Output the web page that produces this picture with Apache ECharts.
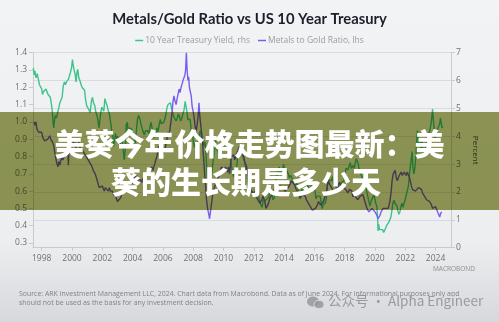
<!DOCTYPE html>
<html>
<head>
<meta charset="utf-8">
<script src="https://cdn.jsdelivr.net/npm/echarts@6/dist/echarts.min.js"></script>
<style>
  html, body { margin: 0; padding: 0; }
  #chart { width: 499px; height: 322px; }
</style>
</head>
<body>
<div id="chart"></div>
<script>
// Year ticks along the bottom axis
const yearTicks = [1998, 2000, 2002, 2004, 2006, 2008, 2010, 2012, 2014, 2016, 2018, 2020, 2022, 2024];
// Left axis (ratio) and right axis (percent) tick values
const ratioTicks = [0.3, 0.4, 0.5, 0.6, 0.7, 0.8, 0.9, 1.0, 1.1, 1.2, 1.3, 1.4];
const percentTicks = [0, 1, 2, 3, 4, 5, 6, 7];

// 10 Year Treasury Yield, percent (right axis) — [year, yield]
const treasuryYield = [
  [1997.45,6.45],[1997.5,6.2],[1997.55,6.35],[1997.62,6.1],[1997.7,6.25],[1997.78,6.05],[1997.85,5.85],[1997.92,5.9],
  [1998.0,5.7],[1998.05,5.5],[1998.12,5.6],[1998.2,5.55],[1998.28,5.7],[1998.35,5.6],[1998.42,5.5],[1998.5,5.45],
  [1998.57,5.4],[1998.63,5.2],[1998.7,4.9],[1998.76,4.45],[1998.8,4.3],[1998.85,4.6],[1998.9,4.75],[1998.97,4.65],
  [1999.05,4.7],[1999.12,5.0],[1999.2,5.2],[1999.28,5.15],[1999.35,5.4],[1999.42,5.8],[1999.5,5.95],[1999.57,5.85],
  [1999.63,5.95],[1999.7,5.9],[1999.77,6.05],[1999.83,6.1],[1999.9,6.3],[1999.97,6.45],[2000.03,6.75],[2000.08,6.55],
  [2000.13,6.4],[2000.2,6.25],[2000.27,5.95],[2000.33,6.3],[2000.38,6.4],[2000.45,6.1],[2000.52,6.0],[2000.6,5.85],
  [2000.67,5.75],[2000.75,5.8],[2000.83,5.65],[2000.9,5.3],[2000.97,5.1],[2001.05,5.15],[2001.12,4.95],[2001.2,4.85],
  [2001.28,5.25],[2001.35,5.4],[2001.42,5.2],[2001.5,5.1],[2001.58,4.85],[2001.65,4.75],[2001.72,4.55],[2001.78,4.3],
  [2001.84,4.35],[2001.9,4.85],[2001.97,5.05],[2002.03,5.0],[2002.1,4.9],[2002.17,5.35],[2002.25,5.2],[2002.32,5.1],
  [2002.4,4.9],[2002.47,4.8],[2002.55,4.5],[2002.62,4.2],[2002.68,4.05],[2002.75,3.65],[2002.82,3.9],[2002.88,4.1],
  [2002.95,3.85],[2003.02,4.0],[2003.1,3.85],[2003.18,3.7],[2003.25,3.95],[2003.32,3.8],[2003.4,3.4],[2003.45,3.15],
  [2003.52,3.6],[2003.58,4.4],[2003.65,4.5],[2003.72,4.1],[2003.8,4.3],[2003.87,4.3],[2003.95,4.25],[2004.02,4.1],
  [2004.1,4.0],[2004.17,3.75],[2004.25,4.2],[2004.32,4.6],[2004.4,4.75],[2004.47,4.65],[2004.55,4.45],[2004.62,4.3],
  [2004.7,4.15],[2004.78,4.05],[2004.85,4.2],[2004.93,4.25],[2005.0,4.2],[2005.08,4.1],[2005.15,4.35],[2005.22,4.5],
  [2005.3,4.25],[2005.38,4.05],[2005.45,3.95],[2005.52,4.1],[2005.6,4.3],[2005.67,4.15],[2005.75,4.4],[2005.82,4.6],
  [2005.9,4.45],[2005.97,4.4],[2006.05,4.5],[2006.12,4.6],[2006.2,4.8],[2006.28,5.05],[2006.35,5.15],[2006.42,5.1],
  [2006.5,5.2],[2006.57,5.0],[2006.65,4.85],[2006.72,4.7],[2006.8,4.7],[2006.87,4.55],[2006.95,4.65],[2007.02,4.8],
  [2007.1,4.7],[2007.17,4.55],[2007.25,4.65],[2007.32,4.7],[2007.4,4.95],[2007.47,5.25],[2007.52,5.1],[2007.58,4.9],
  [2007.65,4.6],[2007.72,4.55],[2007.8,4.6],[2007.87,4.2],[2007.95,4.05],[2008.02,3.8],[2008.08,3.6],[2008.15,3.75],
  [2008.22,3.45],[2008.28,3.75],[2008.35,3.9],[2008.42,4.1],[2008.48,4.2],[2008.55,3.95],[2008.62,3.85],[2008.7,3.65],
  [2008.77,3.8],[2008.83,3.55],[2008.88,3.0],[2008.93,2.5],[2008.98,2.15],[2009.05,2.6],[2009.12,2.85],[2009.2,2.55],
  [2009.27,2.9],[2009.33,3.15],[2009.42,3.75],[2009.47,3.85],[2009.53,3.5],[2009.6,3.6],[2009.67,3.4],[2009.75,3.35],
  [2009.82,3.45],[2009.88,3.35],[2009.95,3.7],[2010.02,3.8],[2010.1,3.65],[2010.17,3.7],[2010.25,3.9],[2010.3,3.85],
  [2010.38,3.35],[2010.45,3.2],[2010.52,2.95],[2010.6,2.7],[2010.67,2.55],[2010.73,2.5],[2010.8,2.6],[2010.87,2.85],
  [2010.93,3.3],[2011.0,3.35],[2011.07,3.6],[2011.13,3.5],[2011.2,3.4],[2011.28,3.45],[2011.35,3.15],[2011.42,3.0],
  [2011.5,3.05],[2011.57,2.6],[2011.63,2.2],[2011.7,1.9],[2011.77,2.2],[2011.83,2.05],[2011.9,1.95],[2011.97,1.9],
  [2012.05,1.95],[2012.12,2.0],[2012.2,2.25],[2012.27,2.0],[2012.35,1.75],[2012.42,1.6],[2012.48,1.55],[2012.55,1.45],
  [2012.62,1.7],[2012.7,1.75],[2012.77,1.7],[2012.83,1.65],[2012.9,1.7],[2012.97,1.8],[2013.05,1.95],[2013.12,2.0],
  [2013.2,1.9],[2013.27,1.72],[2013.35,1.8],[2013.42,2.15],[2013.48,2.5],[2013.55,2.55],[2013.62,2.8],[2013.68,2.9],
  [2013.75,2.65],[2013.82,2.6],[2013.88,2.75],[2013.97,3.0],[2014.05,2.75],[2014.12,2.7],[2014.2,2.75],[2014.28,2.65],
  [2014.35,2.5],[2014.42,2.6],[2014.5,2.55],[2014.57,2.45],[2014.63,2.4],[2014.7,2.5],[2014.77,2.25],[2014.83,2.35],
  [2014.9,2.2],[2014.97,2.15],[2015.05,1.75],[2015.1,1.68],[2015.17,2.1],[2015.23,1.95],[2015.3,1.9],[2015.37,2.2],
  [2015.43,2.4],[2015.5,2.3],[2015.57,2.2],[2015.63,2.15],[2015.7,2.05],[2015.77,2.0],[2015.83,2.25],[2015.9,2.25],
  [2015.97,2.25],[2016.05,2.0],[2016.1,1.75],[2016.17,1.85],[2016.23,1.8],[2016.3,1.8],[2016.38,1.85],[2016.45,1.6],
  [2016.52,1.4],[2016.58,1.55],[2016.65,1.6],[2016.72,1.6],[2016.8,1.8],[2016.85,2.2],[2016.92,2.45],[2016.97,2.45],
  [2017.05,2.45],[2017.12,2.4],[2017.2,2.55],[2017.27,2.3],[2017.33,2.3],[2017.4,2.25],[2017.45,2.15],[2017.52,2.3],
  [2017.6,2.25],[2017.67,2.1],[2017.73,2.25],[2017.8,2.35],[2017.87,2.35],[2017.95,2.4],[2018.02,2.6],[2018.08,2.85],
  [2018.15,2.9],[2018.22,2.8],[2018.3,2.95],[2018.37,3.05],[2018.43,2.85],[2018.5,2.85],[2018.57,2.95],[2018.63,2.85],
  [2018.7,3.05],[2018.77,3.2],[2018.83,3.1],[2018.9,3.0],[2018.95,2.8],[2019.02,2.7],[2019.08,2.65],[2019.15,2.65],
  [2019.22,2.45],[2019.28,2.5],[2019.35,2.4],[2019.42,2.1],[2019.48,2.05],[2019.55,2.05],[2019.62,1.6],[2019.68,1.5],
  [2019.73,1.65],[2019.8,1.75],[2019.87,1.8],[2019.93,1.9],[2020.0,1.85],[2020.05,1.6],[2020.12,1.5],[2020.17,1.1],
  [2020.2,0.6],[2020.24,0.85],[2020.3,0.65],[2020.37,0.65],[2020.43,0.7],[2020.5,0.65],[2020.57,0.55],[2020.63,0.62],
  [2020.7,0.7],[2020.77,0.8],[2020.83,0.85],[2020.9,0.9],[2020.97,0.93],[2021.05,1.1],[2021.12,1.35],[2021.18,1.6],
  [2021.25,1.7],[2021.32,1.6],[2021.38,1.6],[2021.45,1.5],[2021.52,1.3],[2021.58,1.2],[2021.65,1.3],[2021.72,1.5],
  [2021.78,1.6],[2021.85,1.45],[2021.92,1.45],[2022.0,1.75],[2022.07,1.9],[2022.13,1.95],[2022.2,2.2],[2022.27,2.6],
  [2022.33,2.9],[2022.4,2.95],[2022.45,3.45],[2022.5,2.9],[2022.57,2.65],[2022.63,2.85],[2022.7,3.3],[2022.75,3.8],
  [2022.8,4.2],[2022.85,4.0],[2022.9,3.65],[2022.97,3.85],[2023.03,3.5],[2023.1,3.9],[2023.17,3.5],[2023.23,3.4],
  [2023.3,3.5],[2023.37,3.7],[2023.43,3.8],[2023.5,3.9],[2023.57,4.05],[2023.63,4.25],[2023.7,4.45],[2023.77,4.8],
  [2023.8,4.98],[2023.85,4.6],[2023.9,4.3],[2023.95,3.88],[2024.0,4.0],[2024.07,4.15],[2024.13,4.25],[2024.2,4.2],
  [2024.27,4.45],[2024.32,4.65],[2024.38,4.45],[2024.43,4.3],[2024.47,4.35]
];

// Metals to Gold Ratio (left axis) — [year, ratio]
const metalsGoldRatio = [
  [1997.5,1.0],[1997.56,0.98],[1997.62,1.0],[1997.68,0.96],[1997.74,0.97],[1997.8,0.94],[1997.86,0.95],[1997.92,0.93],
  [1998.0,0.94],[1998.07,0.91],[1998.13,0.92],[1998.2,0.89],[1998.27,0.9],[1998.33,0.88],[1998.4,0.9],[1998.47,0.89],
  [1998.53,0.92],[1998.6,0.9],[1998.67,0.91],[1998.73,0.88],[1998.8,0.86],[1998.87,0.82],[1998.93,0.79],[1999.0,0.76],
  [1999.07,0.74],[1999.13,0.77],[1999.2,0.75],[1999.27,0.78],[1999.33,0.8],[1999.4,0.78],[1999.47,0.8],[1999.53,0.79],
  [1999.6,0.81],[1999.66,0.84],[1999.72,0.87],[1999.76,0.75],[1999.8,0.84],[1999.87,0.86],[1999.93,0.88],[2000.0,0.87],
  [2000.07,0.9],[2000.13,0.86],[2000.2,0.88],[2000.27,0.85],[2000.33,0.87],[2000.4,0.86],[2000.47,0.88],[2000.53,0.85],
  [2000.6,0.86],[2000.67,0.84],[2000.73,0.85],[2000.8,0.82],[2000.87,0.83],[2000.93,0.8],[2001.0,0.81],[2001.07,0.78],
  [2001.13,0.79],[2001.2,0.76],[2001.27,0.77],[2001.33,0.74],[2001.4,0.72],[2001.47,0.73],[2001.53,0.7],[2001.6,0.68],
  [2001.67,0.66],[2001.73,0.64],[2001.8,0.62],[2001.87,0.63],[2001.93,0.61],[2002.0,0.63],[2002.07,0.62],[2002.13,0.6],
  [2002.2,0.62],[2002.27,0.63],[2002.33,0.61],[2002.4,0.6],[2002.47,0.62],[2002.53,0.6],[2002.6,0.59],[2002.67,0.6],
  [2002.73,0.58],[2002.8,0.59],[2002.87,0.57],[2002.93,0.56],[2003.0,0.54],[2003.07,0.55],[2003.13,0.53],[2003.2,0.56],
  [2003.27,0.57],[2003.33,0.59],[2003.4,0.58],[2003.47,0.6],[2003.53,0.59],[2003.6,0.61],[2003.67,0.6],[2003.73,0.62],
  [2003.8,0.61],[2003.87,0.63],[2003.93,0.62],[2004.0,0.64],[2004.07,0.66],[2004.13,0.68],[2004.2,0.67],[2004.27,0.69],
  [2004.33,0.66],[2004.4,0.65],[2004.47,0.67],[2004.53,0.66],[2004.6,0.65],[2004.67,0.67],[2004.73,0.66],[2004.8,0.68],
  [2004.87,0.7],[2004.93,0.71],[2005.0,0.7],[2005.07,0.72],[2005.13,0.71],[2005.2,0.73],[2005.27,0.74],[2005.33,0.72],
  [2005.4,0.74],[2005.47,0.76],[2005.53,0.78],[2005.6,0.8],[2005.67,0.83],[2005.73,0.86],[2005.8,0.84],[2005.87,0.82],
  [2005.93,0.8],[2006.0,0.82],[2006.07,0.81],[2006.13,0.84],[2006.2,0.87],[2006.27,0.9],[2006.33,0.94],[2006.4,0.92],
  [2006.47,0.96],[2006.53,1.0],[2006.6,1.05],[2006.67,1.12],[2006.73,1.15],[2006.8,1.12],[2006.87,1.1],[2006.93,1.13],
  [2007.0,1.16],[2007.07,1.19],[2007.13,1.17],[2007.2,1.2],[2007.27,1.22],[2007.33,1.24],[2007.4,1.23],[2007.45,1.27],
  [2007.5,1.3],[2007.55,1.4],[2007.6,1.3],[2007.65,1.24],[2007.7,1.26],[2007.75,1.2],[2007.8,1.19],[2007.87,1.15],
  [2007.93,1.09],[2008.0,1.06],[2008.07,1.02],[2008.13,0.97],[2008.2,0.95],[2008.27,0.99],[2008.33,1.04],[2008.38,1.11],
  [2008.43,1.04],[2008.5,0.98],[2008.55,0.94],[2008.62,0.88],[2008.68,0.8],[2008.75,0.71],[2008.82,0.63],[2008.88,0.55],
  [2008.95,0.5],[2009.02,0.47],[2009.08,0.44],[2009.13,0.45],[2009.2,0.52],[2009.27,0.57],[2009.33,0.58],[2009.4,0.62],
  [2009.47,0.64],[2009.53,0.66],[2009.6,0.65],[2009.67,0.68],[2009.73,0.7],[2009.8,0.72],[2009.87,0.74],[2009.93,0.73],
  [2010.0,0.75],[2010.07,0.72],[2010.13,0.74],[2010.2,0.73],[2010.27,0.71],[2010.33,0.74],[2010.4,0.7],[2010.47,0.76],
  [2010.53,0.8],[2010.6,0.79],[2010.67,0.81],[2010.73,0.78],[2010.8,0.8],[2010.87,0.79],[2010.93,0.83],[2011.0,0.84],
  [2011.07,0.86],[2011.13,0.84],[2011.2,0.85],[2011.27,0.82],[2011.33,0.8],[2011.4,0.77],[2011.47,0.78],[2011.53,0.74],
  [2011.6,0.7],[2011.67,0.66],[2011.73,0.63],[2011.8,0.62],[2011.87,0.6],[2011.93,0.61],[2012.0,0.58],[2012.07,0.6],
  [2012.13,0.58],[2012.2,0.56],[2012.27,0.57],[2012.33,0.55],[2012.4,0.53],[2012.47,0.52],[2012.53,0.55],[2012.6,0.57],
  [2012.67,0.58],[2012.73,0.54],[2012.8,0.5],[2012.87,0.49],[2012.93,0.52],[2013.0,0.54],[2013.07,0.56],[2013.13,0.55],
  [2013.2,0.57],[2013.27,0.59],[2013.33,0.6],[2013.4,0.62],[2013.47,0.6],[2013.53,0.63],[2013.6,0.62],[2013.67,0.61],
  [2013.73,0.63],[2013.8,0.64],[2013.87,0.62],[2013.93,0.63],[2014.0,0.62],[2014.07,0.6],[2014.13,0.61],[2014.2,0.6],
  [2014.27,0.62],[2014.33,0.63],[2014.4,0.64],[2014.47,0.66],[2014.53,0.65],[2014.6,0.67],[2014.67,0.64],[2014.73,0.63],
  [2014.8,0.61],[2014.87,0.6],[2014.93,0.59],[2015.0,0.58],[2015.07,0.56],[2015.13,0.57],[2015.2,0.58],[2015.27,0.59],
  [2015.33,0.58],[2015.4,0.57],[2015.47,0.55],[2015.53,0.54],[2015.6,0.53],[2015.67,0.52],[2015.73,0.51],[2015.8,0.5],
  [2015.87,0.49],[2015.93,0.48],[2016.0,0.49],[2016.07,0.5],[2016.13,0.49],[2016.2,0.52],[2016.27,0.54],[2016.33,0.53],
  [2016.4,0.52],[2016.47,0.51],[2016.53,0.52],[2016.6,0.54],[2016.67,0.56],[2016.73,0.58],[2016.8,0.6],[2016.87,0.64],
  [2016.93,0.66],[2017.0,0.64],[2017.07,0.65],[2017.13,0.63],[2017.2,0.61],[2017.27,0.6],[2017.33,0.59],[2017.4,0.6],
  [2017.47,0.61],[2017.53,0.63],[2017.6,0.64],[2017.67,0.65],[2017.73,0.63],[2017.8,0.64],[2017.87,0.62],[2017.93,0.63],
  [2018.0,0.62],[2018.07,0.61],[2018.13,0.6],[2018.2,0.59],[2018.27,0.6],[2018.33,0.61],[2018.4,0.62],[2018.47,0.6],
  [2018.53,0.57],[2018.6,0.56],[2018.67,0.57],[2018.73,0.58],[2018.8,0.57],[2018.87,0.55],[2018.93,0.56],[2019.0,0.57],
  [2019.07,0.58],[2019.13,0.57],[2019.2,0.58],[2019.27,0.56],[2019.33,0.54],[2019.4,0.52],[2019.47,0.5],[2019.53,0.5],
  [2019.6,0.48],[2019.67,0.47],[2019.73,0.48],[2019.8,0.5],[2019.87,0.51],[2019.93,0.5],[2020.0,0.48],[2020.07,0.47],
  [2020.13,0.46],[2020.2,0.44],[2020.27,0.45],[2020.33,0.46],[2020.4,0.48],[2020.47,0.49],[2020.53,0.5],[2020.6,0.5],
  [2020.67,0.5],[2020.73,0.51],[2020.8,0.49],[2020.87,0.5],[2020.93,0.52],[2021.0,0.55],[2021.07,0.6],[2021.13,0.66],
  [2021.2,0.7],[2021.27,0.69],[2021.33,0.72],[2021.4,0.68],[2021.47,0.66],[2021.53,0.67],[2021.6,0.69],[2021.67,0.7],
  [2021.73,0.71],[2021.8,0.69],[2021.87,0.7],[2021.93,0.71],[2022.0,0.7],[2022.07,0.69],[2022.13,0.71],[2022.2,0.7],
  [2022.27,0.68],[2022.33,0.66],[2022.4,0.63],[2022.47,0.61],[2022.53,0.6],[2022.6,0.61],[2022.67,0.6],[2022.73,0.59],
  [2022.8,0.6],[2022.87,0.62],[2022.93,0.61],[2023.0,0.62],[2023.07,0.61],[2023.13,0.59],[2023.2,0.58],[2023.27,0.57],
  [2023.33,0.56],[2023.4,0.55],[2023.47,0.56],[2023.53,0.55],[2023.6,0.54],[2023.67,0.53],[2023.73,0.52],[2023.8,0.5],
  [2023.87,0.49],[2023.93,0.5],[2024.0,0.51],[2024.07,0.5],[2024.13,0.48],[2024.2,0.47],[2024.27,0.45],[2024.33,0.47],
  [2024.4,0.48],[2024.45,0.47]
];

const seriesNames = ['10 Year Treasury Yield, rhs', 'Metals to Gold Ratio, lhs'];
const seriesColors = ['#3cc48c', '#7a5cf0'];

const chart = echarts.init(document.getElementById('chart'), null, { renderer: 'canvas' });

const axisGray = '#c9cbd0';
const labelGray = '#6f7175';

chart.setOption({
  animation: false,
  backgroundColor: {
    type: 'linear', x: 0, y: 0, x2: 0, y2: 1,
    colorStops: [
      { offset: 0, color: '#f2f3f5' },
      { offset: 0.75, color: '#eceef0' },
      { offset: 1, color: '#d7d8db' }
    ]
  },
  title: {
    text: 'Metals/Gold Ratio vs US 10 Year Treasury',
    left: 'center',
    top: 7,
    textStyle: { fontFamily: 'Lato', fontWeight: 'bold', fontSize: 14.8, color: '#1d1e2c' }
  },
  legend: {
    top: 31,
    left: 'center',
    icon: 'rect',
    itemWidth: 8,
    itemHeight: 1.5,
    itemGap: 8,
    textStyle: { fontFamily: 'Open Sans', fontSize: 8.5, color: '#9a9ca0', padding: [0, 0, 0, -3] },
    data: seriesNames
  },
  grid: { left: 33, right: 48, top: 52.7, bottom: 74.3 },
  xAxis: {
    type: 'value',
    min: 1997.426,
    max: 2025.017,
    axisLine: { show: true, lineStyle: { color: axisGray, width: 1 } },
    axisTick: { show: true, customValues: yearTicks, length: 3, lineStyle: { color: axisGray } },
    axisLabel: {
      customValues: yearTicks,
      margin: 6,
      fontFamily: 'Open Sans', fontSize: 8.5, color: labelGray,
      formatter: v => String(Math.round(v))
    },
    splitLine: { show: false }
  },
  yAxis: [
    {
      type: 'value',
      position: 'left',
      min: 0.2728,
      max: 1.4,
      axisLine: { show: true, lineStyle: { color: axisGray } },
      axisTick: { show: true, customValues: ratioTicks, length: 4, lineStyle: { color: axisGray } },
      axisLabel: {
        customValues: ratioTicks,
        margin: 6,
        fontFamily: 'Open Sans', fontSize: 8.5, color: labelGray,
        formatter: v => v.toFixed(1)
      },
      splitLine: { show: false }
    },
    {
      type: 'value',
      position: 'right',
      min: 0,
      max: 7,
      interval: 1,
      name: 'Percent',
      nameLocation: 'middle',
      nameRotate: -90,
      nameGap: 17,
      nameTextStyle: { fontFamily: 'Open Sans', fontSize: 8, color: '#4a4c50' },
      axisLine: { show: true, lineStyle: { color: axisGray } },
      axisTick: { show: true, length: 4, lineStyle: { color: axisGray } },
      axisLabel: {
        margin: 5,
        fontFamily: 'Open Sans', fontSize: 8.5, color: labelGray,
        formatter: v => String(v)
      },
      splitLine: { show: true, lineStyle: { color: '#d9dbe0', width: 1 } }
    }
  ],
  series: [
    {
      name: seriesNames[0],
      type: 'line',
      yAxisIndex: 1,
      data: treasuryYield,
      showSymbol: false,
      lineStyle: { color: seriesColors[0], width: 1.4 },
      itemStyle: { color: seriesColors[0] },
      z: 3
    },
    {
      name: seriesNames[1],
      type: 'line',
      yAxisIndex: 0,
      data: metalsGoldRatio,
      showSymbol: false,
      lineStyle: { color: seriesColors[1], width: 1.4 },
      itemStyle: { color: seriesColors[1] },
      z: 4
    }
  ],
  graphic: [
    // Olive headline band laid over the middle of the plot
    {
      type: 'rect',
      left: 0, top: 112,
      shape: { width: 499, height: 98 },
      style: { fill: '#949b57', blend: 'multiply' },
      z: 100
    },
    {
      type: 'text',
      left: 'center', top: 129,
      style: {
        text: '美葵今年价格走势图最新：美',
        fontFamily: 'Noto Sans CJK SC', fontWeight: 900, fontSize: 30,
        fill: '#ffffff',
        shadowColor: 'rgba(0,0,0,0.55)', shadowBlur: 4, shadowOffsetX: 1, shadowOffsetY: 1
      },
      z: 101
    },
    {
      type: 'text',
      left: 111, top: 167,
      style: {
        text: '葵的生长期是多少天',
        fontFamily: 'Noto Sans CJK SC', fontWeight: 900, fontSize: 30,
        fill: '#ffffff',
        shadowColor: 'rgba(0,0,0,0.55)', shadowBlur: 4, shadowOffsetX: 1, shadowOffsetY: 1
      },
      z: 101
    },
    // Data vendor mark
    {
      type: 'text',
      left: 433, top: 266,
      style: { text: 'MACROBOND', fontFamily: 'Open Sans', fontSize: 6.5, fill: '#8c8e92' },
      z: 50
    },
    // Source note
    {
      type: 'text',
      left: 19, top: 290,
      style: {
        text: 'Source: ARK Investment Management LLC, 2024. Chart data from Macrobond. Data as of June 2024. For informational purposes only and\nshould not be used as the basis for any investment decision.',
        fontFamily: 'Open Sans', fontSize: 6.95, lineHeight: 8.5, fill: '#808286'
      },
      z: 50
    },
    // Account watermark
    {
      type: 'group',
      left: 307, top: 294,
      z: 60,
      children: [
        { type: 'ellipse', shape: { cx: 6, cy: 6, rx: 6, ry: 5 }, style: { fill: 'rgba(150,152,156,0.85)' }, z: 60 },
        { type: 'ellipse', shape: { cx: 12, cy: 9, rx: 5, ry: 4.2 }, style: { fill: 'rgba(150,152,156,0.85)', stroke: '#d9dadd', lineWidth: 1 }, z: 61 },
        {
          type: 'text', x: 21, y: -1.5,
          style: { text: '公众号 · Alpha Engineer', fontFamily: 'Noto Sans CJK SC', fontSize: 13.5, fill: 'rgba(140,142,146,0.85)' },
          z: 62
        }
      ]
    }
  ]
});
</script>
</body>
</html>
